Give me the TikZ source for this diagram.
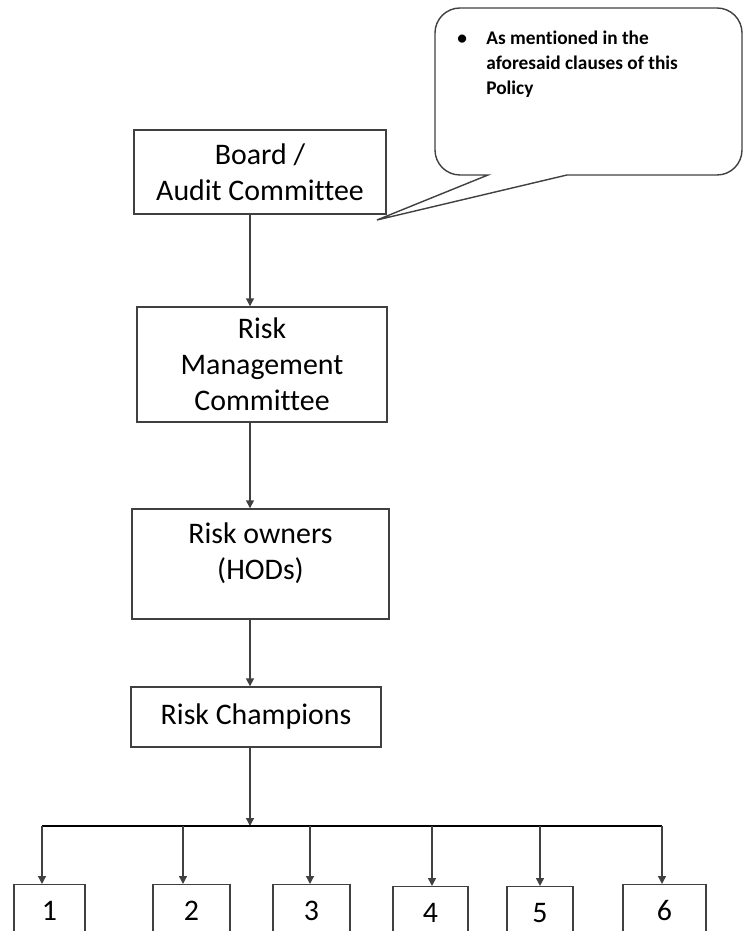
\documentclass[tikz,border=0pt]{standalone}
\usepackage{fontspec}
\setmainfont{Carlito}[Ligatures=NoCommon]
\usepackage{tikz}
\usetikzlibrary{arrows.meta}

\begin{document}
\begin{tikzpicture}[
    box/.style={draw=black!75, line width=0.8pt, align=center, inner sep=0pt,
        font=\fontsize{17}{20.5}\selectfont},
    arr/.style={draw=black!75, line width=0.8pt, -{Triangle[width=4.5pt,length=4.5pt]}},
    note/.style={align=left, inner sep=0pt, font=\fontsize{11}{14.4}\selectfont\bfseries}]
                \clip (0,0) rectangle (14.88,18.62);
                % callout
                \draw[black!75, line width=0.8pt] (7.54,14.22) -- (11.34,15.12)
                    [rounded corners=0.5cm] -- (14.84,15.12) -- (14.84,18.46) -- (8.70,18.46) -- (8.70,15.12)
                    [sharp corners] -- (9.76,15.12) -- cycle;
                \node[note, anchor=north west] (note) at (9.14,18.10)
                    {\begin{tabular}{@{}p{0.58cm}@{}l@{}}
                     \textbullet & As mentioned in the\\
                                 & aforesaid clauses of this\\
                                 & Policy
                     \end{tabular}};
                % chain
                \node[box, minimum width=5.04cm, minimum height=1.68cm] (board) at (5.20,15.18) {Board /\\Audit Committee};
                \node[box, minimum width=5.0cm, minimum height=2.30cm] (rmc) at (5.24,11.33) {Risk\\Management\\Committee};
                \node[box, minimum width=5.14cm, minimum height=2.2cm] (owners) at (5.21,7.34) {Risk owners\\(HODs)\\[-6pt]\mbox{}};
                \node[box, minimum width=5.0cm, minimum height=1.2cm] (champ) at (5.12,4.28) {Risk Champions};
                \coordinate (spine) at (5.0,0);
                \coordinate (busl) at (0.84,2.10);
                \coordinate (busr) at (13.24,2.10);
                \draw[arr] (board.south -| spine) -- (rmc.north -| spine);
                \draw[arr] (rmc.south -| spine) -- (owners.north -| spine);
                \draw[arr] (owners.south -| spine) -- (champ.north -| spine);
                \draw[arr] (champ.south -| spine) -- (busl -| spine);
                \draw[black, line width=1pt] (busl) -- (busr);
                % leaves
                \foreach \n/\cx/\w/\ax/\top in {1/0.99/1.42/0.84/0.94, 2/3.83/1.54/3.66/0.94, 3/6.23/1.54/6.20/0.94,
                                               4/8.61/1.50/8.64/0.90, 5/10.80/1.32/10.80/0.90, 6/13.29/1.66/13.24/0.94} {
                    \node[box, anchor=north, minimum width=\w cm, minimum height=1.04cm,
                          text height=11.5pt, text depth=0pt] (leaf\n) at (\cx,\top) {\n};
                    \draw[arr] (busl -| \ax,0) -- (leaf\n.north -| \ax,0);
                }
            \end{tikzpicture}
\end{document}
